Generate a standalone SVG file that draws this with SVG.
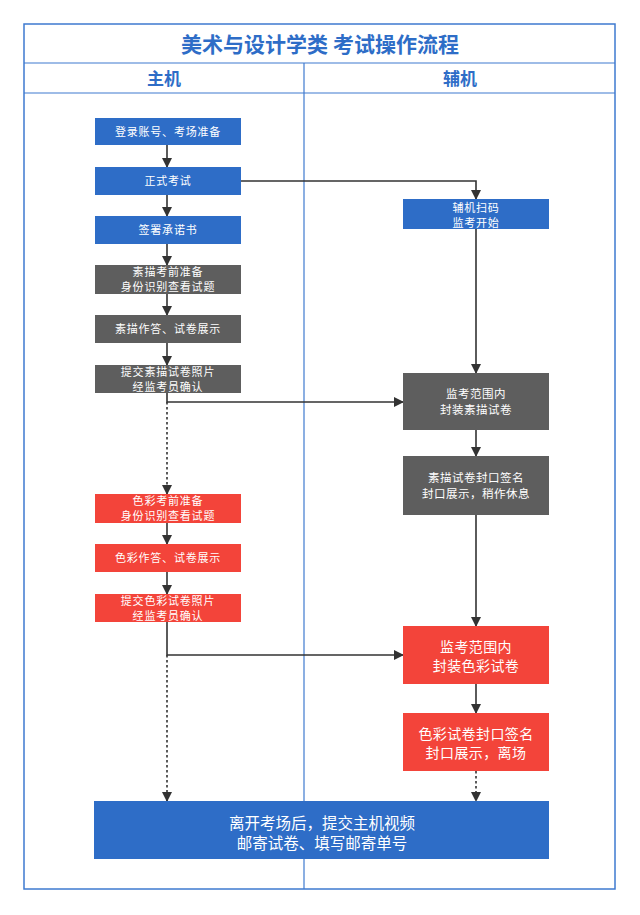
<svg xmlns="http://www.w3.org/2000/svg" width="640" height="915" viewBox="0 0 640 915">
<style>
.frame{fill:none;stroke:#3E7ACF;stroke-width:1.5}
.ln{stroke:#3E7ACF;stroke-width:1.2}
.blue{fill:#2E6DC7}
.gray{fill:#5E5E5E}
.red{fill:#F3443A}
.t{font-family:"Noto Sans CJK SC","Noto Sans",sans-serif;fill:#fff;text-anchor:middle}
.s{font-size:11px;letter-spacing:0.8px}
.g{font-size:11.5px;letter-spacing:0.5px}
.m{font-size:14px;letter-spacing:0.4px}
.l{font-size:15.5px}
.h{font-family:"Noto Sans CJK SC","Noto Sans",sans-serif;fill:#2E6DC7;text-anchor:middle;font-weight:bold}
.c{fill:none;stroke:#333;stroke-width:1.6}
.d{stroke-dasharray:2.5 2.5}
</style>
<defs>
<marker id="ah" markerWidth="10" markerHeight="10" refX="9" refY="5" orient="auto" markerUnits="userSpaceOnUse">
<path d="M0,0 L10,5 L0,10 Z" fill="#333"/>
</marker>
</defs>
<rect width="640" height="915" fill="#fff"/>
<g id="frame">
<rect class="frame" x="24" y="24" width="591" height="865"/>
<line class="ln" x1="24" y1="63" x2="615" y2="63"/>
<line class="ln" x1="24" y1="93" x2="615" y2="93"/>
<line class="ln" x1="304" y1="63" x2="304" y2="889"/>
<text class="h" x="320" y="52" font-size="21">美术与设计学类 考试操作流程</text>
<text class="h" x="164" y="84.5" font-size="17">主机</text>
<text class="h" x="460" y="84.5" font-size="17">辅机</text>
</g>
<g id="connectors">
<line class="c" x1="167" y1="145" x2="167" y2="167" marker-end="url(#ah)"/>
<line class="c" x1="167" y1="195" x2="167" y2="216" marker-end="url(#ah)"/>
<line class="c" x1="167" y1="244" x2="167" y2="265" marker-end="url(#ah)"/>
<line class="c" x1="167" y1="294" x2="167" y2="315" marker-end="url(#ah)"/>
<line class="c" x1="167" y1="343" x2="167" y2="365" marker-end="url(#ah)"/>
<path class="c" d="M241,181 H476 V199" marker-end="url(#ah)"/>
<line class="c" x1="476" y1="229" x2="476" y2="373" marker-end="url(#ah)"/>
<path class="c" d="M167,393 V402 H403" marker-end="url(#ah)"/>
<line class="c d" x1="167" y1="402" x2="167" y2="494" marker-end="url(#ah)"/>
<line class="c" x1="476" y1="430" x2="476" y2="456" marker-end="url(#ah)"/>
<line class="c" x1="476" y1="515" x2="476" y2="626" marker-end="url(#ah)"/>
<line class="c" x1="167" y1="523" x2="167" y2="544" marker-end="url(#ah)"/>
<line class="c" x1="167" y1="572" x2="167" y2="594" marker-end="url(#ah)"/>
<path class="c" d="M167,622 V655 H403" marker-end="url(#ah)"/>
<line class="c d" x1="167" y1="655" x2="167" y2="801" marker-end="url(#ah)"/>
<line class="c" x1="476" y1="684" x2="476" y2="713" marker-end="url(#ah)"/>
<line class="c d" x1="476" y1="771" x2="476" y2="801" marker-end="url(#ah)"/>
</g>
<g id="n1"><rect class="blue" x="95" y="118" width="146" height="27"/><text class="t s" x="168" y="135.5">登录账号、考场准备</text></g>
<g id="n2"><rect class="blue" x="95" y="167" width="146" height="28"/><text class="t s" x="168" y="185">正式考试</text></g>
<g id="n3"><rect class="blue" x="95" y="216" width="146" height="28"/><text class="t s" x="168" y="234">签署承诺书</text></g>
<g id="n4"><rect class="gray" x="95" y="265" width="146" height="29"/><text class="t s" x="168" y="276">素描考前准备</text><text class="t s" x="168" y="291">身份识别查看试题</text></g>
<g id="n5"><rect class="gray" x="95" y="315" width="146" height="28"/><text class="t s" x="168" y="333">素描作答、试卷展示</text></g>
<g id="n6"><rect class="gray" x="95" y="365" width="146" height="28"/><text class="t s" x="168" y="376">提交素描试卷照片</text><text class="t s" x="168" y="391">经监考员确认</text></g>
<g id="n7"><rect class="red" x="95" y="494" width="146" height="29"/><text class="t s" x="168" y="505">色彩考前准备</text><text class="t s" x="168" y="520">身份识别查看试题</text></g>
<g id="n8"><rect class="red" x="95" y="544" width="146" height="28"/><text class="t s" x="168" y="562">色彩作答、试卷展示</text></g>
<g id="n9"><rect class="red" x="95" y="594" width="146" height="28"/><text class="t s" x="168" y="605">提交色彩试卷照片</text><text class="t s" x="168" y="620">经监考员确认</text></g>
<g id="r1"><rect class="blue" x="403" y="199" width="146" height="30"/><text class="t s" x="476" y="212">辅机扫码</text><text class="t s" x="476" y="226.5">监考开始</text></g>
<g id="r2"><rect class="gray" x="403" y="373" width="146" height="57"/><text class="t g" x="476" y="398">监考范围内</text><text class="t g" x="476" y="414">封装素描试卷</text></g>
<g id="r3"><rect class="gray" x="403" y="456" width="146" height="59"/><text class="t g" x="476" y="482">素描试卷封口签名</text><text class="t g" x="476" y="498">封口展示，稍作休息</text></g>
<g id="r4"><rect class="red" x="403" y="626" width="146" height="58"/><text class="t m" x="476" y="651.5">监考范围内</text><text class="t m" x="476" y="670.5">封装色彩试卷</text></g>
<g id="r5"><rect class="red" x="403" y="713" width="146" height="58"/><text class="t m" x="476" y="738.5">色彩试卷封口签名</text><text class="t m" x="476" y="757.5">封口展示，离场</text></g>
<g id="b1"><rect class="blue" x="94" y="801" width="455" height="58"/><text class="t l" x="322" y="828.5">离开考场后，提交主机视频</text><text class="t l" x="322" y="848.5">邮寄试卷、填写邮寄单号</text></g>
</svg>
